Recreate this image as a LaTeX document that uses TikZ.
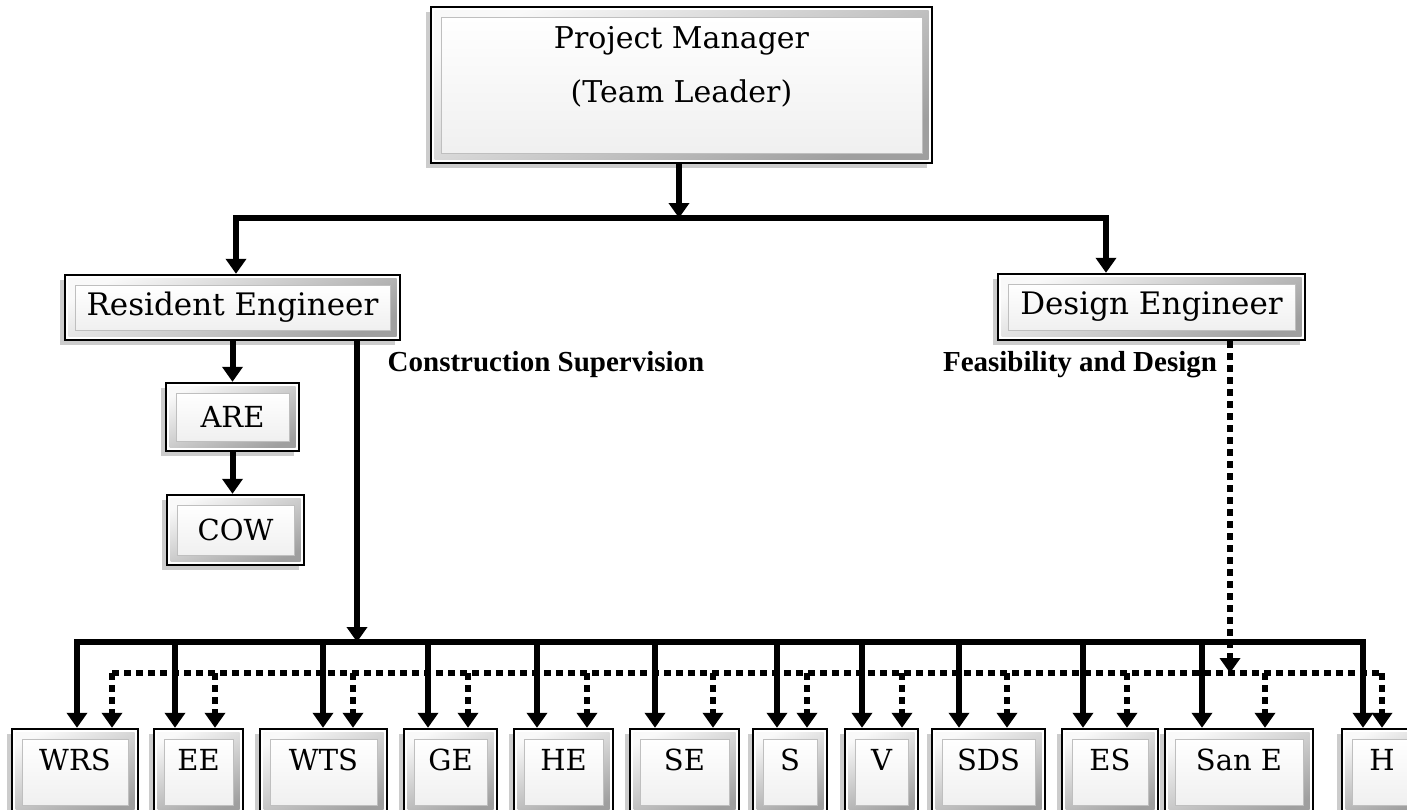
\documentclass[tikz,border=0pt]{standalone}
\usepackage{fontspec}
\setmainfont{DejaVu Serif}
\newfontfamily\timesfont{Liberation Serif}
\usetikzlibrary{arrows.meta,shadows,calc}

\begin{document}
\begin{tikzpicture}[x=1pt,y=-1pt,
    staff/.style={draw=black,line width=2.4pt,fill=white,inner sep=0pt,
      font=\fontsize{29}{34}\selectfont,
      drop shadow={shadow xshift=-5pt,shadow yshift=-5pt,opacity=.4,fill=gray},
      path picture={
        \shade[top color=gray!5,bottom color=gray!75,shading angle=25]
          ([shift={(3.5pt,-3.5pt)}]path picture bounding box.north west) rectangle
          ([shift={(-3.5pt,3.5pt)}]path picture bounding box.south east);
        \shade[top color=white,bottom color=gray!12,draw=gray!50,line width=.8pt]
          ([shift={(10pt,-10pt)}]path picture bounding box.north west) rectangle
          ([shift={(-10pt,10pt)}]path picture bounding box.south east);
      }},
    lead/.style={staff,font=\fontsize{31}{36}\selectfont},
    tag/.style={font=\timesfont\bfseries\fontsize{29}{34}\selectfont,inner sep=0pt},
    bar/.style={line width=6pt,line cap=rect},
    dotbar/.style={line width=6pt,dash pattern=on 7pt off 5pt},
    link/.style={line width=6pt,-{Triangle[length=15pt,width=20pt]}},
    dotlink/.style={link,dash pattern=on 7pt off 5pt}]
  \useasboundingbox (0,0) rectangle (1407,809);

  % top of the chart
  \node[lead,minimum width=501pt,minimum height=156pt] (pm) at (681.5,85) {};
  \node[align=center,anchor=north,inner sep=0pt,font=\fontsize{30}{35}\selectfont]
    (pmtext) at ([yshift=-20pt]pm.north) {Project Manager\\[19pt](Team Leader)};
  \node[lead,minimum width=335pt,minimum height=65pt] (re) at (232.5,307.5) {Resident Engineer};
  \node[lead,minimum width=307pt,minimum height=66pt] (de) at (1151.5,307) {Design Engineer};
  \node[staff,minimum width=133pt,minimum height=68pt] (are) at (232.5,417) {ARE};
  \node[staff,minimum width=137pt,minimum height=70pt] (cow) at (235.5,530) {COW};
  \node[tag] (cslabel) at (546,365) {Construction Supervision};
  \node[tag] (fdlabel) at (1080,365) {Feasibility and Design};

  \coordinate (top) at (679,218);
  \coordinate (lb) at (236,218);
  \coordinate (rb) at (1106,218);
  \coordinate (cs) at (357,642);
  \coordinate (fd) at (1230,673);
  \coordinate (bl) at (77,642);
  \coordinate (br) at (1363,642);
  \coordinate (dl) at (112,673);
  \coordinate (dr) at (1382,673);

  \draw[link] (pm.south -| top) -- (top);
  \draw[bar] (lb) -- (rb);
  \draw[link] (lb) -- (lb |- re.north);
  \draw[link] (rb) -- (rb |- de.north);
  \draw[link] (re.south) -- (are.north);
  \draw[link] (are.south) -- (are.south |- cow.north);
  \draw[link] (re.south -| cs) -- (cs);
  \draw[dotlink] (de.south -| fd) -- (fd);
  \draw[bar] (bl) -- (br);
  \draw[dotbar] (dl) -- (dr);

  % specialists
  \foreach \n/\t/\cx/\w/\sx/\dx in {wrs/WRS/75/126/77/112, ee/EE/198.5/89/175/215,
      wts/WTS/323.5/127/323/353, ge/GE/450.5/93/428/468, he/HE/563.5/99/537/587,
      se/SE/684.5/109/655/713, s/S/790/74/777/807, v/V/881.5/73/862/902,
      sds/SDS/988.5/113/959/1007, es/ES/1110/96/1083/1127,
      sane/San E/1239/148/1202/1265, h/H/1382/80/1363/1382}{
    \node[staff,minimum width=\w pt,minimum height=86pt,text height=22pt,text depth=25pt]
      (\n) at (\cx,772) {\t};
    \coordinate (s-\n) at (\sx,642);
    \coordinate (d-\n) at (\dx,673);
    \draw[link] (s-\n) -- (s-\n |- \n.north);
    \draw[dotlink] (d-\n) -- (d-\n |- \n.north);
  }
\end{tikzpicture}
\end{document}
